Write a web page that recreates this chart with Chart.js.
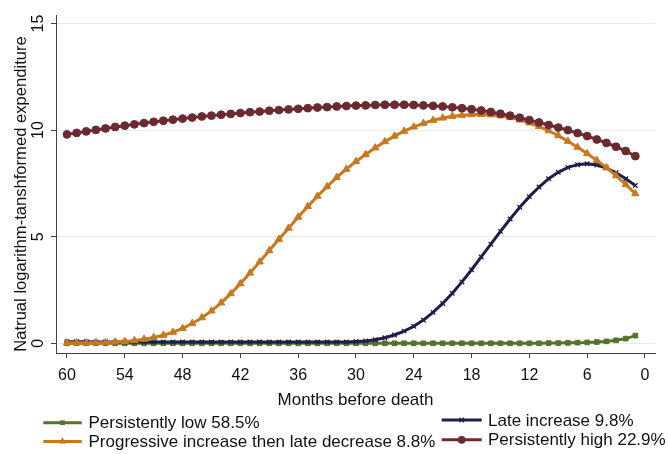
<!DOCTYPE html>
<html><head><meta charset="utf-8">
<script src="https://cdn.jsdelivr.net/npm/chart.js@4.4.1/dist/chart.umd.min.js"></script>
<style>html,body{margin:0;padding:0;background:#fff}#wrap{width:668px;height:454px}</style>
</head><body><div id="wrap"><canvas id="c" width="668" height="454"></canvas></div>
<script>
const FONT = '"Liberation Sans", Arial, sans-serif';
const months = [60,59,58,57,56,55,54,53,52,51,50,49,48,47,46,45,44,43,42,41,40,39,38,37,36,35,34,33,32,31,30,29,28,27,26,25,24,23,22,21,20,19,18,17,16,15,14,13,12,11,10,9,8,7,6,5,4,3,2,1];
const persistentlyLow = [0,0,0,0,0,0,0,0,0,0,0,0,0,0,0,0,0,0,0,0,0,0,0,0,0,0,0,0,0,0,0,0,0,0,0,0,0,0,0,0,0,0,0,0,0,0,0,0,0,0,0.01,0.01,0.02,0.03,0.04,0.06,0.09,0.14,0.22,0.36];
const lateIncrease = [0.07,0.07,0.07,0.06,0.06,0.06,0.06,0.06,0.06,0.06,0.06,0.06,0.06,0.06,0.06,0.06,0.06,0.06,0.06,0.06,0.06,0.06,0.06,0.06,0.06,0.06,0.06,0.06,0.06,0.06,0.08,0.11,0.17,0.26,0.39,0.57,0.80,1.09,1.45,1.87,2.35,2.88,3.45,4.05,4.65,5.25,5.83,6.38,6.88,7.33,7.72,8.02,8.25,8.38,8.42,8.36,8.22,8.00,7.72,7.40];
const progressive = [0.02,0.02,0.02,0.03,0.04,0.06,0.09,0.13,0.19,0.27,0.38,0.52,0.70,0.93,1.20,1.52,1.90,2.33,2.80,3.30,3.82,4.35,4.88,5.40,5.92,6.42,6.90,7.35,7.78,8.17,8.53,8.86,9.17,9.46,9.72,9.95,10.15,10.32,10.46,10.57,10.65,10.70,10.73,10.74,10.72,10.67,10.59,10.48,10.34,10.17,9.97,9.74,9.48,9.20,8.90,8.58,8.24,7.86,7.45,7.02];
const persistentlyHigh = [9.80,9.87,9.94,10.01,10.08,10.15,10.21,10.27,10.33,10.39,10.44,10.49,10.54,10.59,10.64,10.68,10.72,10.76,10.80,10.84,10.87,10.91,10.94,10.97,11.00,11.03,11.06,11.08,11.11,11.13,11.15,11.16,11.18,11.19,11.19,11.19,11.18,11.16,11.14,11.11,11.07,11.03,10.98,10.92,10.85,10.77,10.68,10.58,10.47,10.36,10.24,10.12,10.00,9.86,9.72,9.56,9.40,9.22,9.02,8.78];
const seriesLabels = ['Persistently low 58.5%','Late increase 9.8%','Progressive increase then late decrease 8.8%','Persistently high 22.9%'];
const xTicks = [60,54,48,42,36,30,24,18,12,6,0];
const yTicks = [0,5,10,15];
const xTitle = 'Months before death';
const yTitle = 'Natrual logarithm-tanshformed expenditure';

const colors = ['#56722c','#1c1f4e','#c8781e','#6a2a30'];
const pStyles = ['rect','crossRot','triangle','circle'];
const pRadius = [3.3,3.2,4.2,3.9];
const allSeries = [persistentlyLow, lateIncrease, progressive, persistentlyHigh];
const orders = [4,3,2,1];

const datasets = allSeries.map((vals,i)=>({
  label: seriesLabels[i],
  data: months.map((m,j)=>({x:m, y:vals[j]})),
  borderColor: colors[i],
  backgroundColor: colors[i],
  borderWidth: 3,
  pointStyle: pStyles[i],
  pointRadius: pRadius[i],
  pointBorderWidth: i===1 ? 1.3 : 1,
  pointBackgroundColor: colors[i],
  pointBorderColor: colors[i],
  tension: 0,
  order: orders[i]
}));

function drawMarker(ctx, style, x, y, r, color){
  ctx.save();
  ctx.fillStyle = color; ctx.strokeStyle = color; ctx.lineWidth = 1.3;
  ctx.beginPath();
  if(style==='circle'){ ctx.arc(x,y,r,0,Math.PI*2); ctx.fill(); }
  else if(style==='rect'){ const h=r*Math.SQRT1_2; ctx.rect(x-h,y-h,2*h,2*h); ctx.fill(); }
  else if(style==='triangle'){ const s=r*Math.sqrt(3); ctx.moveTo(x, y-r); ctx.lineTo(x+s/2, y+r/2); ctx.lineTo(x-s/2, y+r/2); ctx.closePath(); ctx.fill(); }
  else { const h=r*Math.SQRT1_2; ctx.moveTo(x-h,y-h); ctx.lineTo(x+h,y+h); ctx.moveTo(x+h,y-h); ctx.lineTo(x-h,y+h); ctx.stroke(); }
  ctx.restore();
}

const textPlugin = {
  id:'texts',
  afterDraw(chart){
    const ctx = chart.ctx, ys = chart.scales.y, ca = chart.chartArea;
    ctx.save();
    ctx.fillStyle = '#111';
    ctx.font = '16px ' + FONT;
    ctx.textAlign = 'center';
    ctx.textBaseline = 'alphabetic';
    yTicks.forEach(v=>{
      const py = ys.getPixelForValue(v);
      ctx.save(); ctx.translate(42.5, py); ctx.rotate(-Math.PI/2);
      ctx.fillText(String(v), 0, 0); ctx.restore();
    });
    ctx.save(); ctx.translate(25.5, 194); ctx.rotate(-Math.PI/2);
    ctx.font = '16.6px ' + FONT;
    ctx.fillText(yTitle, 0, 0); ctx.restore();
    ctx.font = '17px ' + FONT;
    ctx.fillText(xTitle, (ca.left+ca.right)/2, 405);
    // legend
    const cols = [{x0:43.3,x1:81.7,tx:88.5,rows:[422.7,441.5]},{x0:441.7,x1:481.7,tx:488,rows:[420,439.8]}];
    ctx.font = '17px ' + FONT;
    ctx.textAlign = 'left';
    ctx.textBaseline = 'middle';
    [0,1,2,3].forEach((si,k)=>{
      const col = cols[k%2], yy = col.rows[Math.floor(k/2)];
      ctx.save(); ctx.strokeStyle = colors[si]; ctx.lineWidth = 3;
      ctx.beginPath(); ctx.moveTo(col.x0, yy); ctx.lineTo(col.x1, yy); ctx.stroke(); ctx.restore();
      drawMarker(ctx, pStyles[si], (col.x0+col.x1)/2, yy, pRadius[si], colors[si]);
      ctx.fillStyle = '#111';
      ctx.fillText(seriesLabels[si], col.tx, yy+1);
    });
    ctx.restore();
  }
};

new Chart(document.getElementById('c'), {
  type:'line',
  data:{datasets},
  options:{
    responsive:false, animation:false, devicePixelRatio:1,
    layout:{padding:{left:0,right:13,top:15,bottom:0}},
    plugins:{legend:{display:false}, tooltip:{enabled:false}},
    scales:{
      x:{type:'linear', reverse:true, min:-1.04, max:61.14,
        afterBuildTicks:s=>{ s.ticks = xTicks.map(v=>({value:v})); },
        afterFit:s=>{ s.height = 101; },
        grid:{drawOnChartArea:false, tickLength:5, tickColor:'#444', tickWidth:1},
        border:{color:'#444', width:1},
        ticks:{font:{family:FONT,size:16}, color:'#111', padding:8, maxRotation:0, autoSkip:false}
      },
      y:{type:'linear', min:-0.455, max:15.4,
        afterBuildTicks:s=>{ s.ticks = yTicks.map(v=>({value:v})); },
        afterFit:s=>{ s.width = 56; },
        grid:{color:'#e4ecef', lineWidth:1, tickLength:5, tickColor:'#444', tickWidth:1},
        border:{color:'#444', width:1},
        ticks:{display:false}
      }
    }
  },
  plugins:[textPlugin]
});
</script></body></html>
